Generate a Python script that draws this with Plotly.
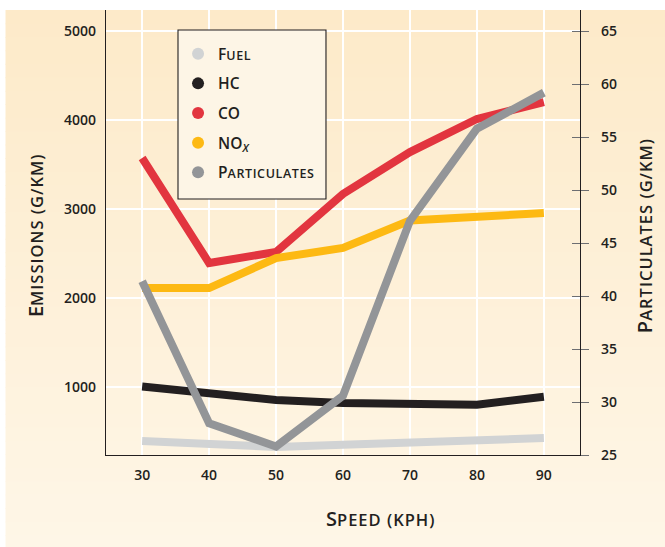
import plotly.graph_objects as go

speed = [30, 40, 50, 60, 70, 80, 90]
fuel = [393, 360, 326, 350, 375, 400, 427]
hc = [1005, 933, 854, 820, 815, 800, 890]
co = [3573, 2393, 2517, 3170, 3640, 4011, 4202]
nox = [2112, 2112, 2449, 2562, 2870, 2910, 2955]
particulates = [41.4, 28.0, 25.8, 30.6, 47.1, 55.8, 59.2]

x_ticks = [30, 40, 50, 60, 70, 80, 90]
left_ticks = [1000, 2000, 3000, 4000, 5000]
right_ticks = [25, 30, 35, 40, 45, 50, 55, 60, 65]

C_FUEL = "#d1d3d4"
C_HC = "#231f20"
C_CO = "#e2353f"
C_NOX = "#fdb913"
C_PART = "#939598"
TXT = "#231f20"
FONT = "Open Sans"

fig = go.Figure()

LW = 8
fig.add_trace(go.Scatter(x=speed, y=fuel, mode="lines", line=dict(color=C_FUEL, width=LW), showlegend=False))
fig.add_trace(go.Scatter(x=speed, y=particulates, mode="lines", line=dict(color=C_PART, width=LW),
                         yaxis="y2", showlegend=False))
fig.add_trace(go.Scatter(x=speed, y=co, mode="lines", line=dict(color=C_CO, width=LW), showlegend=False))
fig.add_trace(go.Scatter(x=speed, y=nox, mode="lines", line=dict(color=C_NOX, width=LW), showlegend=False))
fig.add_trace(go.Scatter(x=speed, y=hc, mode="lines", line=dict(color=C_HC, width=LW), showlegend=False))


def sc(first, rest, size=12.5, spacing=0.6):
    return f"{first}<span style='font-size:{size}px;letter-spacing:{spacing}px'>{rest}</span>"


legend_items = [
    (sc("F", "UEL"), C_FUEL),
    ("HC", C_HC),
    ("CO", C_CO),
    ("NO<sub><i>X</i></sub>", C_NOX),
    (sc("P", "ARTICULATES"), C_PART),
]
for i, (name, col) in enumerate(legend_items):
    fig.add_trace(go.Scatter(x=[None], y=[None], mode="markers", name=name,
                             marker=dict(color=col, size=16, symbol="circle"),
                             legendgroup=f"g{i}"))

# background gradient (paper coordinates)
shapes = []
top_c = (253, 234, 201)
bot_c = (254, 246, 231)
N = 40
y0p, y1p = -0.21, 1.0
for i in range(N):
    t = i / (N - 1)
    r = round(top_c[0] + (bot_c[0] - top_c[0]) * t)
    g = round(top_c[1] + (bot_c[1] - top_c[1]) * t)
    b = round(top_c[2] + (bot_c[2] - top_c[2]) * t)
    ya = y1p - (y1p - y0p) * i / N
    yb = y1p - (y1p - y0p) * (i + 1) / N - 0.002
    shapes.append(dict(type="rect", xref="paper", yref="paper", x0=-0.212, x1=1.2,
                       y0=max(yb, y0p - 0.01), y1=ya, fillcolor=f"rgb({r},{g},{b})",
                       line=dict(width=0), layer="below"))

# legend box
shapes.append(dict(type="rect", xref="paper", yref="paper", x0=0.1519, x1=0.4641, y0=0.5753, y1=0.955,
                   fillcolor="#fdf5e6", line=dict(color=TXT, width=1.1), layer="above"))

tick_font = dict(family=FONT, size=14, color=TXT, weight=600)
title_font = dict(family=FONT, size=20, color=TXT, weight=600)

fig.update_layout(
    width=665, height=547,
    margin=dict(l=106, r=85, t=10, b=92),
    paper_bgcolor="white",
    plot_bgcolor="rgba(0,0,0,0)",
    shapes=shapes,
    font=dict(family=FONT, color=TXT),
    xaxis=dict(range=[24.6, 95.4], tickvals=x_ticks, showgrid=True, gridcolor="white", gridwidth=1.5,
               zeroline=False, showline=True, linecolor=TXT, linewidth=1.2, ticks="",
               tickfont=tick_font, ticklabelstandoff=7),
    yaxis=dict(range=[236, 5236], tickvals=left_ticks, showgrid=True, gridcolor="white", gridwidth=1.5,
               zeroline=False, showline=True, linecolor=TXT, linewidth=1.2, ticks="",
               tickfont=tick_font, ticklabelstandoff=6),
    yaxis2=dict(range=[25, 67], tickvals=right_ticks, overlaying="y", side="right", showgrid=False,
                zeroline=False, showline=True, linecolor=TXT, linewidth=1.2, ticks="outside",
                ticklen=8, tickwidth=1.2, tickcolor="#6d6e71", tickfont=tick_font, ticklabelstandoff=9),
    yaxis3=dict(range=[25, 67], tickvals=right_ticks, overlaying="y", side="right", showgrid=False,
                zeroline=False, showline=False, ticks="inside", ticklen=8, tickwidth=1.2,
                tickcolor="#6d6e71", showticklabels=False),
    legend=dict(x=0.152, y=0.939, xanchor="left", yanchor="top", bgcolor="rgba(0,0,0,0)",
                borderwidth=0, tracegroupgap=6.5,
                font=dict(family=FONT, size=15.5, color=TXT, weight=600), itemsizing="constant"),
    annotations=[
        dict(text=sc("S", "PEED (KPH)", 16.5, 1), x=0.58, y=-0.1416, xref="paper", yref="paper",
             showarrow=False, font=title_font, xanchor="center", yanchor="middle"),
        dict(text=sc("E", "MISSIONS (G/KM)", 16.5, 1), x=-0.150, y=0.494, xref="paper", yref="paper",
             showarrow=False, textangle=-90, font=title_font, xanchor="center", yanchor="middle"),
        dict(text=sc("P", "ARTICULATES (G/KM)", 16.5, 1), x=1.135, y=0.494, xref="paper", yref="paper",
             showarrow=False, textangle=-90, font=title_font, xanchor="center", yanchor="middle"),
    ],
)
# dummy trace to activate yaxis3
fig.add_trace(go.Scatter(x=[None], y=[None], yaxis="y3", showlegend=False, hoverinfo="skip"))

fig.write_html("out.html", config={"displayModeBar": False},
               post_script="document.body.style.margin='0';document.body.style.overflow='hidden';")
